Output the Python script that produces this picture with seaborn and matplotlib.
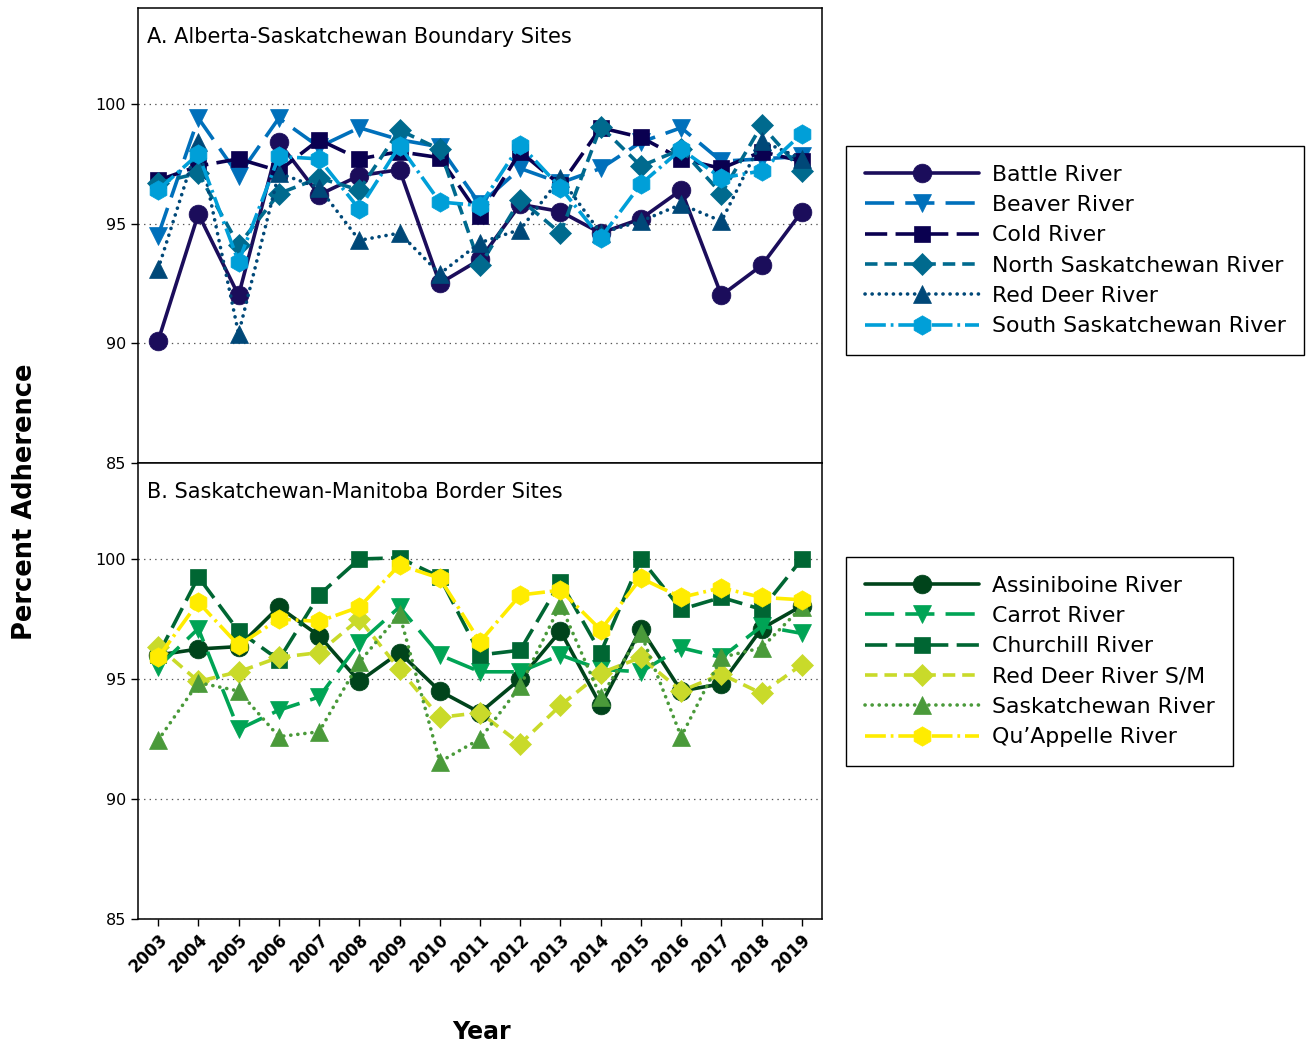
import matplotlib
matplotlib.use("Agg")
import matplotlib.pyplot as plt
import seaborn as sns

# years on the x axis
years = list(range(2003, 2020))

# A. Alberta-Saskatchewan boundary sites
battle = [90.1, 95.4, 92.0, 98.4, 96.2, 97.0, 97.25, 92.5, 93.5, 95.8, 95.5, 94.6, 95.2, 96.4, 92.0, 93.25, 95.5]
beaver = [94.5, 99.4, 97.0, 99.4, 98.2, 99.0, 98.5, 98.2, 95.8, 97.3, 96.7, 97.3, 98.4, 99.0, 97.6, 97.7, 97.8]
cold = [96.8, 97.4, 97.7, 97.2, 98.5, 97.7, 98.0, 97.75, 95.3, 98.0, 96.6, 99.0, 98.6, 97.7, 97.3, 98.0, 97.6]
north_sask = [96.7, 97.1, 94.1, 96.25, 96.9, 96.4, 98.9, 98.1, 93.25, 96.0, 94.6, 99.05, 97.4, 98.1, 96.25, 99.1, 97.2]
red_deer = [93.1, 98.4, 90.4, 97.1, 96.5, 94.3, 94.6, 92.9, 94.2, 94.75, 96.9, 94.6, 95.1, 95.8, 95.1, 98.45, 97.7]
south_sask = [96.4, 97.9, 93.4, 97.8, 97.7, 95.6, 98.25, 95.9, 95.75, 98.3, 96.5, 94.4, 96.65, 98.1, 96.9, 97.2, 98.75]

# B. Saskatchewan-Manitoba border sites
assiniboine = [96.0, 96.25, 96.35, 98.0, 96.8, 94.9, 96.1, 94.5, 93.6, 95.0, 97.0, 93.9, 97.1, 94.5, 94.8, 97.1, 98.05]
carrot = [95.5, 97.1, 92.9, 93.7, 94.25, 96.5, 98.0, 96.0, 95.3, 95.3, 96.0, 95.4, 95.3, 96.3, 95.9, 97.2, 96.9]
churchill = [96.0, 99.25, 97.0, 95.8, 98.5, 100.0, 100.05, 99.25, 96.0, 96.2, 99.05, 96.1, 100.0, 97.9, 98.4, 97.9, 100.0]
red_deer_sm = [96.35, 94.9, 95.3, 95.9, 96.1, 97.5, 95.4, 93.4, 93.6, 92.3, 93.9, 95.25, 95.9, 94.5, 95.2, 94.4, 95.6]
saskatchewan = [92.45, 94.85, 94.5, 92.6, 92.8, 95.7, 97.7, 91.55, 92.5, 94.7, 98.1, 94.25, 96.9, 92.6, 95.9, 96.3, 98.0]
quappelle = [95.9, 98.2, 96.4, 97.5, 97.4, 98.0, 99.75, 99.2, 96.55, 98.5, 98.7, 97.05, 99.2, 98.4, 98.8, 98.4, 98.3]

sns.set_theme(style="ticks")
plt.rcParams["font.family"] = ["DejaVu Sans"]
plt.rcParams["lines.scale_dashes"] = False
plt.rcParams["text.color"] = "black"
plt.rcParams["axes.labelcolor"] = "black"
plt.rcParams["xtick.color"] = "black"
plt.rcParams["ytick.color"] = "black"

solid = "-"
long_dash = (0, (21, 8))
med_dash = (0, (16, 6))
short_dash = (0, (9, 5))
dotted = (0, (0.1, 5))
dash_dot = (0, (15, 3.5, 2, 3.5))

top_series = [
    ("Battle River", battle, "#1b0d5b", "o", solid),
    ("Beaver River", beaver, "#0070bb", "v", long_dash),
    ("Cold River", cold, "#0a0050", "s", med_dash),
    ("North Saskatchewan River", north_sask, "#006a8e", "D", short_dash),
    ("Red Deer River", red_deer, "#004878", "^", dotted),
    ("South Saskatchewan River", south_sask, "#009fd8", "h", dash_dot),
]
bottom_series = [
    ("Assiniboine River", assiniboine, "#00441b", "o", solid),
    ("Carrot River", carrot, "#00a455", "v", long_dash),
    ("Churchill River", churchill, "#006633", "s", med_dash),
    ("Red Deer River S/M", red_deer_sm, "#c9da2a", "D", short_dash),
    ("Saskatchewan River", saskatchewan, "#4a9a3a", "^", dotted),
    ("Qu\u2019Appelle River", quappelle, "#ffec00", "h", dash_dot),
]
sizes = {"o": 13.5, "v": 13, "s": 12, "D": 11, "^": 13, "h": 14}

fig = plt.figure(figsize=(13.12, 10.46), dpi=100)
ax_top = fig.add_axes([138 / 1312, 1 - 463 / 1046, 684 / 1312, 455 / 1046])
ax_bot = fig.add_axes([138 / 1312, 1 - 919 / 1046, 684 / 1312, 456 / 1046], sharex=ax_top)


def draw_panel(ax, series, title, legend_xy):
    for name, vals, col, mk, ls in series:
        sns.lineplot(x=years, y=vals, ax=ax, color=col, marker=mk, markersize=sizes[mk],
                     markeredgecolor=col, markeredgewidth=0.5, linestyle=ls, linewidth=2.6,
                     dash_capstyle="round" if ls == dotted else "butt", label=name)
    handles, labels = ax.get_legend_handles_labels()
    ax.get_legend().remove()
    leg = fig.legend(handles, labels, loc="upper left", bbox_to_anchor=legend_xy,
                     borderaxespad=0, fontsize=15.8, handlelength=5.2, handletextpad=0.6,
                     labelspacing=0.47, borderpad=0.85, fancybox=False, framealpha=1,
                     edgecolor="black")
    leg.get_frame().set_linewidth(1.0)
    ax.set_ylim(85, 104)
    ax.set_yticks([85, 90, 95, 100])
    ax.set_xlim(2002.5, 2019.5)
    ax.grid(axis="y", linestyle=(0, (1, 3)), color="#555555", linewidth=0.9)
    ax.text(0.013, 0.937, title, transform=ax.transAxes, fontsize=15, va="center", ha="left")
    for s in ax.spines.values():
        s.set_color("black")
        s.set_linewidth(1.1)
    ax.tick_params(axis="y", direction="out", length=5, width=1, labelsize=11.5, colors="black")
    ax.set_xlabel("")
    ax.set_ylabel("")


draw_panel(ax_top, top_series, "A. Alberta-Saskatchewan Boundary Sites",
           (846 / 1312, 1 - 146 / 1046))
draw_panel(ax_bot, bottom_series, "B. Saskatchewan-Manitoba Border Sites",
           (846 / 1312, 1 - 557 / 1046))

ax_top.tick_params(axis="x", bottom=False, labelbottom=False)
ax_bot.set_xticks(years)
ax_bot.tick_params(axis="x", direction="out", length=5, width=1, colors="black")
for lab in ax_bot.get_xticklabels():
    lab.set_rotation(45)
    lab.set_ha("right")
    lab.set_rotation_mode("anchor")
    lab.set_fontweight("bold")
    lab.set_fontsize(12)

fig.text(482 / 1312, 1 - 1032 / 1046, "Year", fontsize=17, fontweight="bold",
         ha="center", va="center")
fig.text(25 / 1312, 1 - 502 / 1046, "Percent Adherence", fontsize=18.5, fontweight="bold",
         rotation=90, ha="center", va="center")

fig.savefig("out.png", dpi=100, facecolor="white")
